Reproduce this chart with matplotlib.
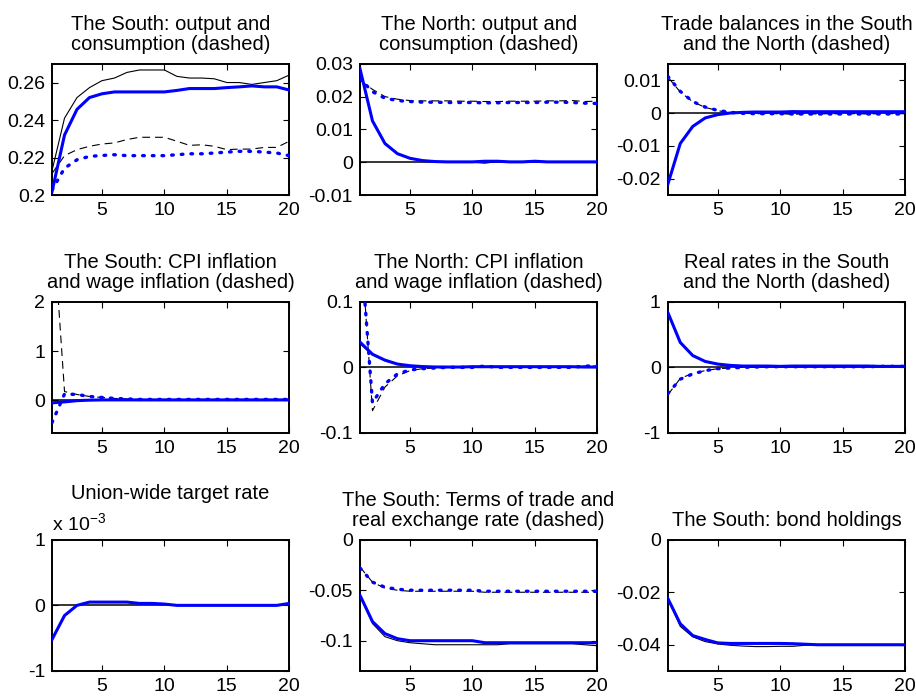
import numpy as np
import matplotlib
matplotlib.use("Agg")
import matplotlib.pyplot as plt
from matplotlib.ticker import FuncFormatter

plt.rcParams['font.family'] = ['Liberation Sans', 'DejaVu Sans']
plt.rcParams['axes.unicode_minus'] = False

periods = np.arange(1, 21)

# South: output (solid) and consumption (dashed)
south_y_a = [0.2130, 0.2410, 0.2520, 0.2573, 0.2610, 0.2624, 0.2654, 0.2667, 0.2667, 0.2667,
             0.2633, 0.2624, 0.2624, 0.2620, 0.2600, 0.2600, 0.2590, 0.2600, 0.2610, 0.2640]
south_c_a = [0.2115, 0.2210, 0.2242, 0.2260, 0.2272, 0.2278, 0.2296, 0.2308, 0.2308, 0.2308,
             0.2287, 0.2265, 0.2268, 0.2260, 0.2242, 0.2245, 0.2245, 0.2254, 0.2254, 0.2287]
south_y_b = [0.2018, 0.2320, 0.2457, 0.2520, 0.2540, 0.2550, 0.2550, 0.2550, 0.2550, 0.2550,
             0.2558, 0.2568, 0.2568, 0.2568, 0.2573, 0.2577, 0.2582, 0.2577, 0.2577, 0.2560]
south_c_b = [0.2027, 0.2143, 0.2188, 0.2206, 0.2211, 0.2215, 0.2210, 0.2210, 0.2210, 0.2210,
             0.2215, 0.2220, 0.2220, 0.2224, 0.2229, 0.2233, 0.2233, 0.2229, 0.2224, 0.2210]

# North: output and consumption
north_y_a = [0.0280, 0.0124, 0.0056, 0.0025, 0.0012, 0.0005, 0.0001, 0.0, 0.0, 0.0,
             -0.0003, 0.0002, 0.0, 0.0, 0.0002, 0.0, 0.0, 0.0, 0.0, 0.0]
north_c_a = [0.0250, 0.0222, 0.0200, 0.0192, 0.0188, 0.0187, 0.0187, 0.0187, 0.0186, 0.0186,
             0.0185, 0.0185, 0.0186, 0.0186, 0.0186, 0.0187, 0.0187, 0.0188, 0.0185, 0.0186]
north_y_b = [0.0285, 0.0126, 0.0057, 0.0026, 0.0012, 0.0005, 0.0002, 0.0001, 0.0001, 0.0001,
             0.0003, 0.0003, 0.0001, 0.0001, 0.0003, 0.0001, 0.0001, 0.0001, 0.0001, 0.0001]
north_c_b = [0.0255, 0.0215, 0.0195, 0.0188, 0.0185, 0.0183, 0.0183, 0.0182, 0.0182, 0.0182,
             0.0181, 0.0181, 0.0182, 0.0182, 0.0182, 0.0183, 0.0183, 0.0182, 0.0180, 0.0179]

# Trade balances: South (solid), North (dashed)
tb_south_a = [-0.0215, -0.0092, -0.0040, -0.0015, -0.0005, 0.0, 0.0002, 0.0003, 0.0003, 0.0003,
              0.0006, 0.0003, 0.0003, 0.0003, 0.0003, 0.0003, 0.0003, 0.0003, 0.0003, 0.0003]
tb_north_a = [0.0110, 0.0064, 0.0034, 0.0017, 0.0007, 0.0001, -0.0001, -0.0002, -0.0002, -0.0002,
              -0.0004, -0.0002, -0.0003, -0.0002, -0.0003, -0.0002, -0.0003, -0.0002, -0.0002, -0.0002]
tb_south_b = [-0.0218, -0.0093, -0.0041, -0.0015, -0.0005, 0.0, 0.0002, 0.0003, 0.0003, 0.0003,
              0.0004, 0.0004, 0.0004, 0.0004, 0.0004, 0.0004, 0.0004, 0.0004, 0.0004, 0.0004]
tb_north_b = [0.0112, 0.0066, 0.0035, 0.0018, 0.0008, 0.0002, -0.0001, -0.0002, -0.0002, -0.0002,
              -0.0003, -0.0003, -0.0003, -0.0003, -0.0003, -0.0003, -0.0003, -0.0003, -0.0003, -0.0003]

# South: CPI inflation and wage inflation
cpi_south_a = [-0.04, -0.02, -0.005, 0.005, 0.008, 0.01, 0.01, 0.01, 0.01, 0.01,
               0.01, 0.01, 0.01, 0.01, 0.01, 0.01, 0.01, 0.01, 0.01, 0.01]
wage_south_a = [3.9, 0.18, 0.12, 0.08, 0.06, 0.04, 0.03, 0.02, 0.02, 0.02,
                0.02, 0.02, 0.02, 0.02, 0.02, 0.02, 0.02, 0.02, 0.02, 0.02]
cpi_south_b = [-0.05, -0.03, -0.005, 0.005, 0.01, 0.01, 0.01, 0.01, 0.01, 0.01,
               0.01, 0.01, 0.01, 0.01, 0.01, 0.01, 0.01, 0.01, 0.01, 0.01]
wage_south_b = [-0.45, 0.13, 0.12, 0.08, 0.06, 0.04, 0.03, 0.02, 0.02, 0.02,
                0.02, 0.02, 0.02, 0.02, 0.02, 0.02, 0.02, 0.02, 0.02, 0.02]

# North: CPI inflation and wage inflation
cpi_north_a = [0.036, 0.019, 0.010, 0.005, 0.002, 0.001, 0.0005, 0.0005, 0.0005, 0.001,
               0.001, 0.001, 0.001, 0.001, 0.001, 0.001, 0.001, 0.001, 0.0005, 0.0005]
wage_north_a = [0.21, -0.066, -0.030, -0.013, -0.005, -0.002, -0.001, 0.0, 0.0, 0.0,
                0.001, 0.0, 0.0, 0.0, 0.0, 0.0, 0.0, 0.0, 0.002, 0.002]
cpi_north_b = [0.0385, 0.020, 0.011, 0.005, 0.0025, 0.0012, 0.0006, 0.0005, 0.0005, 0.001,
               0.001, 0.001, 0.001, 0.001, 0.001, 0.001, 0.001, 0.001, 0.0005, 0.0005]
wage_north_b = [0.20, -0.054, -0.025, -0.010, -0.004, -0.002, -0.001, 0.0, 0.0, 0.0,
                0.002, 0.0, 0.0, 0.0, 0.0, 0.0, 0.0, 0.0, 0.002, 0.002]

# Real rates: South (solid), North (dashed)
rr_south_a = [0.83, 0.37, 0.18, 0.09, 0.05, 0.03, 0.02, 0.02, 0.02, 0.015,
              0.02, 0.02, 0.02, 0.02, 0.02, 0.02, 0.02, 0.015, 0.015, 0.015]
rr_north_a = [-0.42, -0.17, -0.09, -0.05, -0.02, -0.01, 0.0, 0.005, 0.01, 0.01,
              0.01, 0.01, 0.01, 0.01, 0.01, 0.01, 0.01, 0.015, 0.015, 0.015]
rr_south_b = [0.84, 0.38, 0.18, 0.09, 0.05, 0.03, 0.02, 0.02, 0.02, 0.015,
              0.02, 0.02, 0.02, 0.02, 0.02, 0.02, 0.02, 0.015, 0.015, 0.015]
rr_north_b = [-0.40, -0.18, -0.10, -0.05, -0.02, -0.01, 0.0, 0.005, 0.01, 0.01,
              0.01, 0.01, 0.01, 0.01, 0.01, 0.01, 0.01, 0.015, 0.015, 0.015]

# Union-wide target rate
target_a = [-0.00052, -0.000155, 0.0, 0.00005, 0.00005, 0.00005, 0.00005, 0.00003, 0.00003, 0.00002,
            0.0, 0.0, 0.0, 0.0, 0.0, 0.0, 0.0, 0.0, 0.0, 0.00003]
target_b = [-0.00052, -0.000155, 0.0, 0.00005, 0.00005, 0.00005, 0.00005, 0.00003, 0.00003, 0.00002,
            0.0, 0.0, 0.0, 0.0, 0.0, 0.0, 0.0, 0.0, 0.0, 0.00003]

# South: terms of trade (solid) and real exchange rate (dashed)
tot_a = [-0.055, -0.083, -0.096, -0.100, -0.102, -0.103, -0.104, -0.104, -0.104, -0.104,
         -0.104, -0.104, -0.103, -0.103, -0.103, -0.103, -0.103, -0.103, -0.104, -0.105]
rer_a = [-0.027, -0.042, -0.048, -0.050, -0.051, -0.051, -0.051, -0.051, -0.051, -0.051,
         -0.052, -0.052, -0.052, -0.052, -0.052, -0.052, -0.052, -0.052, -0.052, -0.052]
tot_b = [-0.055, -0.081, -0.093, -0.098, -0.100, -0.100, -0.100, -0.100, -0.100, -0.100,
         -0.102, -0.102, -0.102, -0.102, -0.102, -0.102, -0.102, -0.102, -0.102, -0.102]
rer_b = [-0.028, -0.042, -0.047, -0.049, -0.050, -0.050, -0.050, -0.050, -0.050, -0.050,
         -0.051, -0.051, -0.051, -0.051, -0.051, -0.051, -0.051, -0.051, -0.051, -0.051]

# South: bond holdings
bond_a = [-0.0223, -0.0330, -0.0370, -0.0388, -0.0397, -0.0402, -0.0405, -0.0407, -0.0407, -0.0406,
          -0.0406, -0.0402, -0.0401, -0.0401, -0.0401, -0.0401, -0.0401, -0.0401, -0.0401, -0.0401]
bond_b = [-0.0223, -0.0320, -0.0365, -0.0380, -0.0393, -0.0395, -0.0395, -0.0395, -0.0395, -0.0395,
          -0.0396, -0.0398, -0.0400, -0.0400, -0.0400, -0.0400, -0.0400, -0.0400, -0.0400, -0.0400]

titles = ["The South: output and\nconsumption (dashed)",
          "The North: output and\nconsumption (dashed)",
          "Trade balances in the South\nand the North (dashed)",
          "The South: CPI inflation\nand wage inflation (dashed)",
          "The North: CPI inflation\nand wage inflation (dashed)",
          "Real rates in the South\nand the North (dashed)",
          "Union-wide target rate",
          "The South: Terms of trade and\nreal exchange rate (dashed)",
          "The South: bond holdings"]

panels = [
    (south_y_a, south_c_a, south_y_b, south_c_b),
    (north_y_a, north_c_a, north_y_b, north_c_b),
    (tb_south_a, tb_north_a, tb_south_b, tb_north_b),
    (cpi_south_a, wage_south_a, cpi_south_b, wage_south_b),
    (cpi_north_a, wage_north_a, cpi_north_b, wage_north_b),
    (rr_south_a, rr_north_a, rr_south_b, rr_north_b),
    (target_a, None, target_b, None),
    (tot_a, rer_a, tot_b, rer_b),
    (bond_a, None, bond_b, None),
]

ylims = [(0.2, 0.27), (-0.01, 0.03), (-0.025, 0.015),
         (-0.66, 2), (-0.1, 0.1), (-1, 1),
         (-1e-3, 1e-3), (-0.13, 0), (-0.05, 0)]
yticks = [[0.2, 0.22, 0.24, 0.26], [-0.01, 0, 0.01, 0.02, 0.03], [-0.02, -0.01, 0, 0.01],
          [0, 1, 2], [-0.1, 0, 0.1], [-1, 0, 1],
          [-1e-3, 0, 1e-3], [-0.1, -0.05, 0], [-0.04, -0.02, 0]]

fig = plt.figure(figsize=(9.16, 6.98), dpi=100)

lefts = [0.0568, 0.393, 0.729]
bottoms = [0.7206, 0.3797, 0.0387]
w, h = 0.259, 0.188

blue = '#0000ff'
for i in range(9):
    r, c = divmod(i, 3)
    ax = fig.add_axes([lefts[c], bottoms[r], w, h])
    ya, ca, yb, cb = panels[i]
    lo, hi = ylims[i]
    if lo < 0 < hi:
        ax.axhline(0, color='k', lw=1.1, zorder=1)
    ax.plot(periods, ya, color='k', lw=0.8, zorder=2)
    if ca is not None:
        ax.plot(periods, ca, color='k', lw=0.8, ls=(0, (7, 4.5)), zorder=2)
    ax.plot(periods, yb, color=blue, lw=2.2, zorder=3)
    if cb is not None:
        ax.plot(periods, cb, color=blue, lw=2.4, ls=(0, (0.5, 2.4)),
                dash_capstyle='round', zorder=3)
    ax.set_xlim(1, 20)
    ax.set_ylim(lo, hi)
    ax.set_xticks([5, 10, 15, 20])
    ax.set_yticks(yticks[i])
    if i == 6:
        ax.yaxis.set_major_formatter(FuncFormatter(lambda v, p: '%g' % round(v * 1e3, 6)))
        ax.text(0.0, 1.035, r'x 10$^{\mathregular{-3}}$', transform=ax.transAxes,
                fontsize=14, ha='left', va='bottom')
    else:
        ax.yaxis.set_major_formatter(FuncFormatter(lambda v, p: '%g' % round(v, 6)))
    ax.tick_params(direction='in', top=True, right=True, length=4, width=0.8,
                   labelsize=14, pad=5)
    for s in ax.spines.values():
        s.set_linewidth(1.4)
    pad = 10 if i != 6 else 29
    ax.set_title(titles[i], fontsize=14.5, pad=pad, linespacing=1.05)

fig.savefig('out.png', dpi=100)
